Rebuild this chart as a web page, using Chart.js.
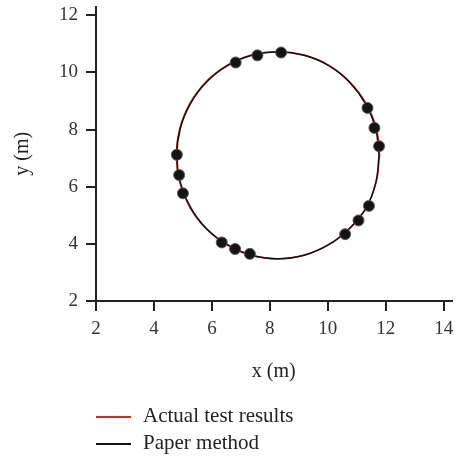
<!DOCTYPE html>
<html>
<head>
<meta charset="utf-8">
<script src="https://cdn.jsdelivr.net/npm/chart.js@4.4.0/dist/chart.umd.min.js"></script>
<style>
  html, body { margin: 0; padding: 0; background: #fff; }
  #wrap { position: relative; width: 458px; height: 458px; }
  canvas { position: absolute; left: 0; top: 0; }
  .leg { position: absolute; left: 143px; font-family: "Liberation Serif", "Times New Roman", serif; font-size: 21px; line-height: 21px; color: #222; white-space: nowrap; }
  .sw { position: absolute; left: 96px; width: 35px; height: 2px; }
</style>
</head>
<body>
<div id="wrap">
  <canvas id="c" width="458" height="458"></canvas>
  <div class="sw" style="top:416px;background:#d42a1e;"></div>
  <div class="leg" style="top:405px;">Actual test results</div>
  <div class="sw" style="top:443px;background:#111;"></div>
  <div class="leg" style="top:432px;">Paper method</div>
</div>
<script>
// Paper method curve
const paperX = [11.77, 11.65, 11.30, 10.75, 10.03, 9.18, 8.28, 7.38, 6.54, 5.81, 5.26, 4.91, 4.79, 4.91, 5.26, 5.81, 6.54, 7.38, 8.28, 9.18, 10.03, 10.75, 11.34, 11.66, 11.77];
const paperY = [7.10, 8.04, 8.91, 9.66, 10.24, 10.60, 10.72, 10.60, 10.24, 9.66, 8.91, 8.04, 7.10, 6.16, 5.29, 4.54, 3.97, 3.60, 3.48, 3.60, 3.97, 4.54, 5.29, 6.16, 7.10];
// Actual test results curve
const actualX = [11.79, 11.68, 11.32, 10.76, 10.04, 9.18, 8.28, 7.37, 6.52, 5.79, 5.24, 4.89, 4.77, 4.89, 5.24, 5.80, 6.53, 7.38, 8.28, 9.18, 10.03, 10.75, 11.34, 11.67, 11.79];
const actualY = [7.10, 8.04, 8.92, 9.67, 10.25, 10.61, 10.73, 10.61, 10.25, 9.67, 8.92, 8.04, 7.10, 6.16, 5.28, 4.53, 3.96, 3.59, 3.47, 3.60, 3.97, 4.54, 5.29, 6.16, 7.10];
// Measured points (markers)
const markX = [6.82, 7.57, 8.39, 11.37, 11.61, 11.77, 11.42, 11.06, 10.60, 7.31, 6.80, 6.34, 4.79, 4.87, 5.00];
const markY = [10.35, 10.60, 10.70, 8.76, 8.06, 7.42, 5.33, 4.82, 4.34, 3.65, 3.82, 4.05, 7.12, 6.41, 5.77];
const xTicks = [2, 4, 6, 8, 10, 12, 14];
const yTicks = [2, 4, 6, 8, 10, 12];

const zip = (xs, ys) => xs.map((x, i) => ({x: x, y: ys[i]}));
const tickFont = {family: "'Liberation Serif', 'Times New Roman', serif", size: 19};
const titleFont = {family: "'Liberation Serif', 'Times New Roman', serif", size: 20};

new Chart(document.getElementById('c'), {
  type: 'scatter',
  data: {
    datasets: [
      { label: 'points', data: zip(markX, markY), showLine: false, pointRadius: 5.5,
        pointBackgroundColor: '#141414', pointBorderColor: '#5a5a5a', pointBorderWidth: 1 },
      { label: 'Paper method', data: zip(paperX, paperY), showLine: true, tension: 0.4,
        borderColor: '#111', borderWidth: 1.5, pointRadius: 0, fill: false },
      { label: 'Actual test results', data: zip(actualX, actualY), showLine: true, tension: 0.4,
        borderColor: '#d42a1e', borderWidth: 1.5, pointRadius: 0, fill: false }
    ]
  },
  options: {
    responsive: false,
    animation: false,
    layout: { padding: { top: 6, right: 0, bottom: 0, left: 0 } },
    plugins: { legend: { display: false }, tooltip: { enabled: false } },
    scales: {
      x: {
        type: 'linear', min: 2, max: 14.27,
        afterBuildTicks: (s) => { s.ticks = xTicks.map(v => ({value: v})); },
        afterFit: (s) => { s.height = 157; s.paddingLeft = 0; s.paddingRight = 0; },
        ticks: { includeBounds: false, stepSize: 2, font: tickFont, color: '#333', padding: 7, maxRotation: 0 },
        grid: { drawOnChartArea: false, drawTicks: true, tickLength: 10, color: '#222', lineWidth: 2 },
        border: { display: true, color: '#222', width: 2 },
        title: { display: true, text: 'x (m)', font: titleFont, color: '#222', padding: { top: 0, bottom: 74 } }
      },
      y: {
        type: 'linear', min: 2, max: 12.31,
        afterBuildTicks: (s) => { s.ticks = yTicks.map(v => ({value: v})); },
        afterFit: (s) => { s.width = 96; s.paddingTop = 0; s.paddingBottom = 0; },
        ticks: { includeBounds: false, stepSize: 2, font: tickFont, color: '#333', padding: 8 },
        grid: { drawOnChartArea: false, drawTicks: true, tickLength: 10, color: '#222', lineWidth: 2 },
        border: { display: true, color: '#222', width: 2 },
        title: { display: true, text: 'y (m)', font: titleFont, color: '#222', padding: { top: 11, bottom: 0 } }
      }
    }
  }
});
</script>
</body>
</html>
